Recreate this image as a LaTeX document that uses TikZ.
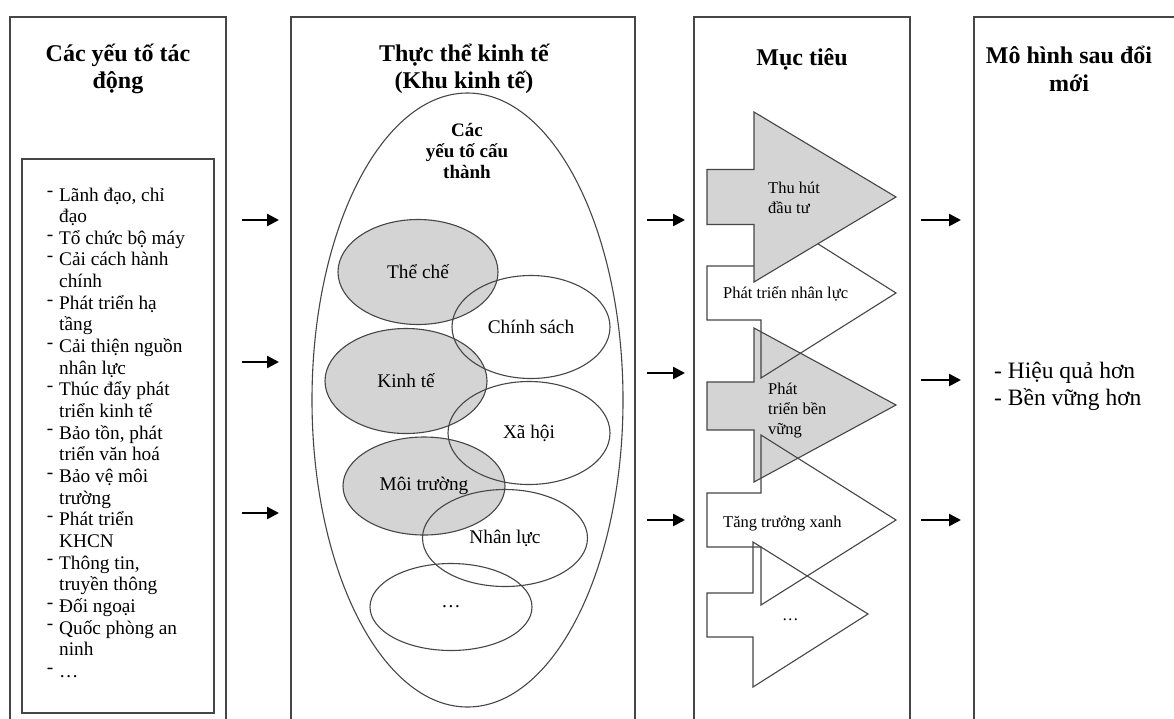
\documentclass[tikz,border=0pt]{standalone}
\usepackage{fontspec}
\setmainfont{Liberation Serif}
\usetikzlibrary{shapes.geometric,arrows.meta}
\definecolor{linec}{RGB}{70,70,70}
\definecolor{greyfill}{RGB}{212,212,212}
\newcommand\ttlf{\bfseries\fontsize{24}{27.5}\selectfont}
\newcommand\lstf{\fontsize{19.3}{21.65}\selectfont}
\newcommand\goalf{\fontsize{16.5}{20}\selectfont}
\newcommand\bl{\llap{\raisebox{0.22em}{-}\hspace{0.3em}}}
\begin{document}
\begin{tikzpicture}[x=1pt,y=-1pt,
  col/.style={draw=linec, line width=1.3pt},
  flow/.style={line width=2.5pt, -{Triangle[length=12pt,width=12pt]}},
  gel/.style={ellipse, draw=linec, fill=greyfill, line width=1.1pt, inner sep=0pt, font=\lstf},
  wel/.style={ellipse, draw=linec, line width=1.1pt, inner sep=0pt, font=\lstf},
  goalg/.style={draw=linec, fill=greyfill, line width=1.1pt},
  goalw/.style={draw=linec, line width=1.1pt},
  ttl/.style={align=center, font=\ttlf, inner sep=0pt},
  lst/.style={anchor=base west, inner sep=0pt, font=\lstf},
  glab/.style={anchor=base west, inner sep=0pt, font=\goalf, align=left}]
\useasboundingbox (0,0) rectangle (1174,718);
\fill[white] (0,0) rectangle (1174,718);
% columns
\draw[col] (10,725) -- (10,17) -- (226,17) -- (226,725);
\draw[col] (22,159) rectangle (214,713);
\draw[col] (291,725) -- (291,17) -- (635,17) -- (635,725);
\draw[col] (694,725) -- (694,17) -- (910,17) -- (910,725);
\draw[col] (974,725) -- (974,17) -- (1180,17);
% titles
\node[ttl] (t1) at (118,69) {Các yếu tố tác\\động};
\node[ttl] (t2) at (464,69) {Thực thể kinh tế\\(Khu kinh tế)};
\node[ttl] (t3) at (802,59) {Mục tiêu};
\node[ttl] (t4) at (1069,69) {Mô hình sau đổi\\mới};
% left list
\foreach \t [count=\i from 0] in {{\bl Lãnh đạo, chỉ},{đạo},{\bl Tổ chức bộ máy},{\bl Cải cách hành},{chính},{\bl Phát triển hạ},{tầng},{\bl Cải thiện nguồn},{nhân lực},{\bl Thúc đẩy phát},{triển kinh tế},{\bl Bảo tồn, phát},{triển văn hoá},{\bl Bảo vệ môi},{trường},{\bl Phát triển},{KHCN},{\bl Thông tin,},{truyền thông},{\bl Đối ngoại},{\bl Quốc phòng an},{ninh},{\bl …}}
  \node[lst] (L\i) at (59,{201+21.65*\i}) {\t};
% middle column
\node[ellipse, draw=linec, line width=1.1pt, minimum width=311pt, minimum height=614pt, inner sep=0pt] (egg) at (467.5,400) {};
\node[align=center, inner sep=0pt, font=\bfseries\fontsize{19}{21}\selectfont] (cau) at (467,151) {Các\\yếu tố cấu\\thành};
\node[gel, minimum width=160pt, minimum height=105pt] (theche) at (418,272) {Thể chế};
\node[gel, minimum width=162pt, minimum height=105pt] (kinhte) at (406,381) {Kinh tế};
\node[gel, minimum width=162pt, minimum height=98pt] (moitruong) at (424,486) {Môi trường};
\node[wel, minimum width=158pt, minimum height=103pt] (chinhsach) at (531,327) {Chính sách};
\node[wel, minimum width=162pt, minimum height=103pt] (xahoi) at (529,433) {Xã hội};
\node[wel, minimum width=165pt, minimum height=97pt] (nhanluc) at (505,538) {Nhân lực};
\node[wel, minimum width=162pt, minimum height=87pt] (khac) at (451,607) {…};
% goal arrows
\draw[goalg] (707,382) -- (754,382) -- (754,328) -- (896,405) -- (754,482) -- (754,430) -- (707,430) -- cycle;
\draw[goalw] (707,266) -- (761,266) -- (761,208) -- (896,293) -- (761,378) -- (761,320) -- (707,320) -- cycle;
\draw[goalw] (707,493) -- (761,493) -- (761,435) -- (896,520) -- (761,605) -- (761,547) -- (707,547) -- cycle;
\draw[goalw] (707,593) -- (753,593) -- (753,542) -- (868,614) -- (753,687) -- (753,637) -- (707,637) -- cycle;
\draw[goalg] (707,169.5) -- (754,169.5) -- (754,112) -- (896,197) -- (754,282) -- (754,224.5) -- (707,224.5) -- cycle;
\node[glab] (g1) at (768,213) {Thu hút\\đầu tư};
\node[glab] (g2) at (723,298) {Phát triển nhân lực};
\node[glab] (g3) at (768,434) {Phát\\triển bền\\vững};
\node[glab] (g4) at (723,527) {Tăng trưởng xanh};
\node[glab] (g5) at (782,620) {…};
% right text
\node[anchor=base west, inner sep=0pt, align=left, font=\fontsize{23.5}{26.5}\selectfont] (res) at (994,405) {- Hiệu quả hơn\\- Bền vững hơn};
% connectors
\foreach \y [count=\k] in {220,362,513} {
  \coordinate (a\k s) at (242,\y); \coordinate (a\k e) at (279,\y);
  \draw[flow] (a\k s) -- (a\k e);}
\foreach \y [count=\k] in {220,373,520} {
  \coordinate (b\k s) at (647,\y); \coordinate (b\k e) at (685,\y);
  \draw[flow] (b\k s) -- (b\k e);}
\foreach \y [count=\k] in {220,380,520} {
  \coordinate (c\k s) at (921,\y); \coordinate (c\k e) at (961,\y);
  \draw[flow] (c\k s) -- (c\k e);}
\end{tikzpicture}
\end{document}
